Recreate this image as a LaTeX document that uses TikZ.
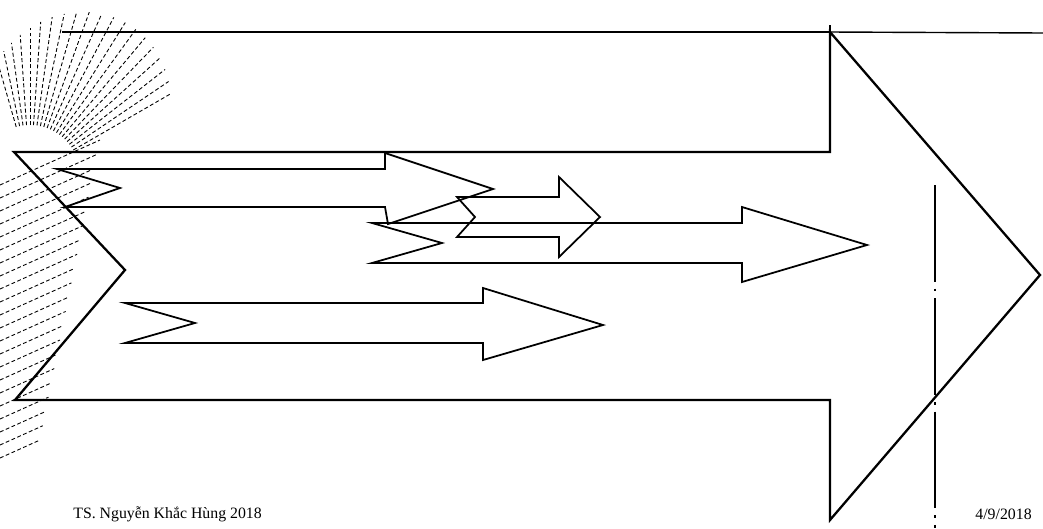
\documentclass[tikz,border=0pt]{standalone}
\usepackage{fontspec}
\setmainfont{Liberation Serif}
\begin{document}
\begin{tikzpicture}[x=0.02cm,y=-0.02cm,
    bigarrow/.style={line width=1.3pt, line join=miter},
    smallarrow/.style={line width=1pt, line join=miter},
    hatch/.style={line width=0.5pt, dash pattern=on 2.2pt off 1.4pt},
    footer/.style={font=\fontsize{9}{10}\selectfont, inner sep=0pt}]
    \useasboundingbox (0,0) rectangle (1043,528);
    % sheaf of paper in the corner
    \foreach \a in {30,34,...,106} {
        \draw[hatch] ({30+50*cos(\a)},{175-50*sin(\a)}) -- ({30+(130+50*sin(2*\a-20))*cos(\a)},{175-(130+50*sin(2*\a-20))*sin(\a)});
    }
    \foreach \y in {185,198,...,470} {
        \draw[hatch] (0,\y) -- ({100-0.22*(\y-185)},{\y-0.45*(100-0.22*(\y-185))});
    }
    % big arrow
    \coordinate (T1) at (14,152);
    \coordinate (N) at (125,270);
    \coordinate (T2) at (15,400);
    \coordinate (H1) at (830,32);
    \coordinate (H2) at (830,520);
    \coordinate (P) at (1040,275);
    \draw[bigarrow] (T1) -- (830,152) -- (H1) -- (P) -- (H2) -- (830,400) -- (T2) -- (N) -- cycle;
    \draw[bigarrow] (62,32) -- (H1) -- (830,25);
    \draw[line width=0.8pt] (H1) -- (1043,33);
    % small arrows
    \draw[smallarrow] (57,169) -- (385,169) -- (385,153) -- (493,189) -- (388,224) -- (385,207) -- (65,207) -- (120,188) -- cycle;
    \draw[smallarrow] (372,223) -- (742,223) -- (742,207) -- (867,245) -- (742,282) -- (742,263) -- (372,263) -- (442,243) -- cycle;
    \draw[smallarrow] (457,197) -- (559,197) -- (559,177) -- (600,217) -- (559,257) -- (559,237) -- (457,237) -- (475,217) -- cycle;
    \draw[smallarrow] (125,303) -- (483,303) -- (483,288) -- (603,325) -- (483,360) -- (483,343) -- (125,343) -- (195,323) -- cycle;
    % dash-dot guide
    \draw[line width=0.6pt, dash pattern=on 55pt off 4pt on 1.5pt off 4pt] (935,185) -- (935,528);
    \node[footer, anchor=west] (author) at (73,514) {TS. Nguyễn Khắc Hùng 2018};
    \node[footer, anchor=east] (date) at (1032,514) {4/9/2018};
\end{tikzpicture}
\end{document}
